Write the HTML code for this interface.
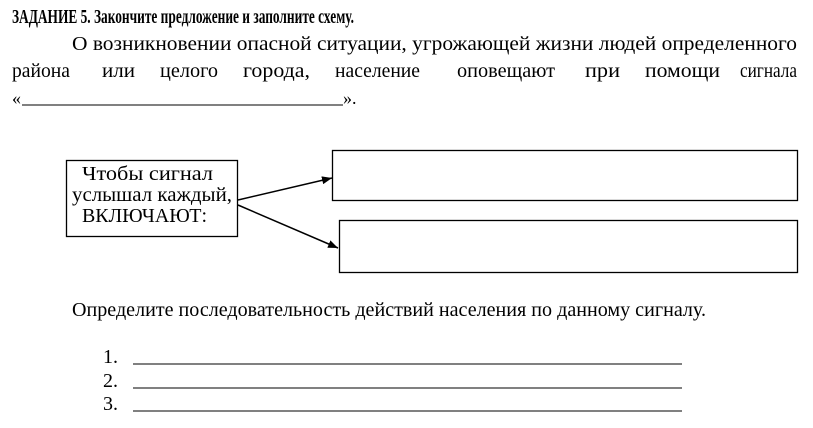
<!DOCTYPE html>
<html><head><meta charset="utf-8"><style>
html,body{margin:0;padding:0;background:#fff;}
svg{display:block;}
text{font-family:"Liberation Serif","DejaVu Serif",serif;fill:#000;}
</style></head><body>
<svg width="813" height="428" viewBox="0 0 813 428" xmlns="http://www.w3.org/2000/svg">
<defs><marker id="a" markerWidth="10" markerHeight="8" refX="10" refY="4" orient="auto" markerUnits="userSpaceOnUse"><path d="M0,0 L10,4 L0,8 z" fill="#000"/></marker></defs>
<text x="12" y="23" font-size="20" font-weight="bold" textLength="342" lengthAdjust="spacingAndGlyphs">ЗАДАНИЕ  5.  Закончите предложение и заполните схему.</text>
<text x="72" y="50" font-size="20" textLength="725" lengthAdjust="spacingAndGlyphs">О  возникновении  опасной  ситуации,  угрожающей  жизни  людей  определенного</text>
<g font-size="20">
<text x="12" y="77" textLength="58" lengthAdjust="spacingAndGlyphs">района</text>
<text x="102" y="77" textLength="33" lengthAdjust="spacingAndGlyphs">или</text>
<text x="160" y="77" textLength="58" lengthAdjust="spacingAndGlyphs">целого</text>
<text x="243" y="77" textLength="67" lengthAdjust="spacingAndGlyphs">города,</text>
<text x="335" y="77" textLength="85" lengthAdjust="spacingAndGlyphs">население</text>
<text x="457" y="77" textLength="98" lengthAdjust="spacingAndGlyphs">оповещают</text>
<text x="585" y="77" textLength="35" lengthAdjust="spacingAndGlyphs">при</text>
<text x="645" y="77" textLength="75" lengthAdjust="spacingAndGlyphs">помощи</text>
<text x="740" y="77" textLength="57" lengthAdjust="spacingAndGlyphs">сигнала</text>
</g>
<text x="12" y="104" font-size="18">«</text>
<line x1="22" y1="105" x2="343" y2="105" stroke="#000" stroke-width="1"/>
<text x="343" y="104" font-size="18">».</text>

<rect x="66.5" y="160.5" width="171" height="76" fill="none" stroke="#000" stroke-width="1.3"/>
<text x="82" y="180" font-size="20" textLength="131" lengthAdjust="spacingAndGlyphs">Чтобы сигнал</text>
<text x="72" y="201" font-size="20" textLength="160" lengthAdjust="spacingAndGlyphs">услышал каждый,</text>
<text x="82" y="222" font-size="20" textLength="125" lengthAdjust="spacingAndGlyphs">ВКЛЮЧАЮТ:</text>

<rect x="332.5" y="150.5" width="465" height="50" fill="none" stroke="#000" stroke-width="1.3"/>
<rect x="339.5" y="220.5" width="458" height="52" fill="none" stroke="#000" stroke-width="1.3"/>
<line x1="238" y1="200" x2="332" y2="178" stroke="#000" stroke-width="1.5" marker-end="url(#a)"/>
<line x1="238" y1="205" x2="338" y2="248" stroke="#000" stroke-width="1.5" marker-end="url(#a)"/>

<text x="72" y="316" font-size="20" textLength="634" lengthAdjust="spacingAndGlyphs">Определите последовательность действий населения по данному сигналу.</text>
<text x="103" y="363" font-size="20">1.</text>
<text x="103" y="387" font-size="20">2.</text>
<text x="103" y="410" font-size="20">3.</text>
<line x1="133" y1="364" x2="682" y2="364" stroke="#000" stroke-width="1"/>
<line x1="133" y1="388" x2="682" y2="388" stroke="#000" stroke-width="1"/>
<line x1="133" y1="411" x2="682" y2="411" stroke="#000" stroke-width="1"/>
</svg>
</body></html>
